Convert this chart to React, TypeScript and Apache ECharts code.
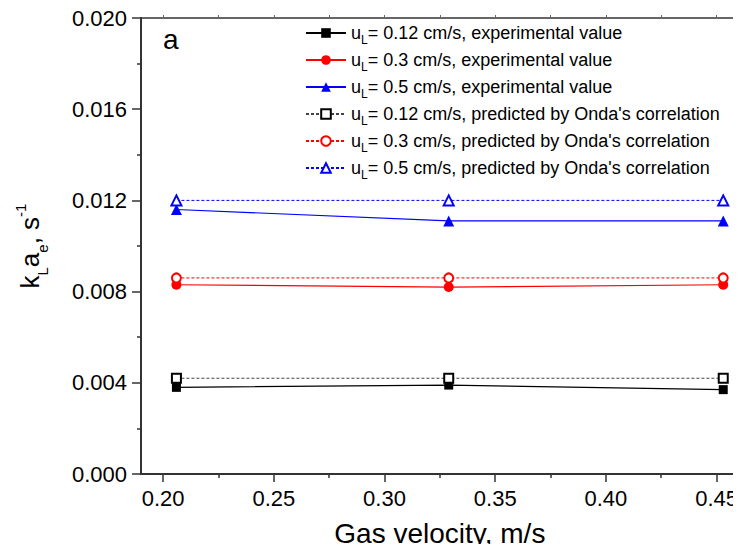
import React, { useEffect, useRef } from "react";
import * as echarts from "echarts";

const gasVelocity = [0.206, 0.329, 0.453];
const exp012 = [0.0038, 0.0039, 0.0037];
const exp03 = [0.0083, 0.0082, 0.0083];
const exp05 = [0.0116, 0.0111, 0.0111];
const pred012 = [0.0042, 0.0042, 0.0042];
const pred03 = [0.0086, 0.0086, 0.0086];
const pred05 = [0.012, 0.012, 0.012];

const xMajorTicks = [0.2, 0.25, 0.3, 0.35, 0.4, 0.45];
const xMinorTicks = [0.225, 0.275, 0.325, 0.375, 0.425];

const legendNames = [
  "u_L= 0.12 cm/s, experimental value",
  "u_L= 0.3 cm/s, experimental value",
  "u_L= 0.5 cm/s, experimental value",
  "u_L= 0.12 cm/s, predicted by Onda's correlation",
  "u_L= 0.3 cm/s, predicted by Onda's correlation",
  "u_L= 0.5 cm/s, predicted by Onda's correlation",
];

const FONT = "Arial, 'Liberation Sans', Helvetica, sans-serif";

function pairs(ys: number[]) {
  return ys.map((y, i) => [gasVelocity[i], y]);
}

export default function App() {
  const ref = useRef<HTMLDivElement>(null);
  useEffect(() => {
    if (!ref.current) return;
    const chart = echarts.init(ref.current, undefined, { renderer: "svg" });
    const mk = (
      name: string,
      ys: number[],
      color: string,
      lineColor: string,
      symbol: string,
      size: number,
      dashed: boolean
    ) => ({
      name,
      type: "line",
      xAxisIndex: 0,
      yAxisIndex: 0,
      data: pairs(ys),
      symbol,
      symbolSize: size,
      lineStyle: dashed
        ? { color: lineColor, width: 1, type: [3, 2] }
        : { color: lineColor, width: 1.2, type: "solid" },
      itemStyle: { color, borderColor: color, borderWidth: dashed ? 1.2 : 0 },
      emphasis: { disabled: true },
    });
    const xBase = { type: "value", min: 0.19, max: 0.46, splitLine: { show: false } };
    chart.setOption({
      animation: false,
      backgroundColor: "#fff",
      grid: { left: 141, right: 1, top: 18, bottom: 78 },
      textStyle: { fontFamily: FONT },
      legend: {
        orient: "vertical",
        left: 300,
        top: 19,
        itemWidth: 40,
        itemHeight: 12,
        itemGap: 5,
        data: legendNames,
        formatter: (n: string) => {
          const rest = n.substring(3);
          return "{u|u}{s|L}{t|" + rest + "}";
        },
        textStyle: {
          fontFamily: FONT,
          color: "#000",
          rich: {
            u: { fontSize: 18, fontFamily: FONT, color: "#000", lineHeight: 20 },
            s: { fontSize: 12, fontFamily: FONT, color: "#000", verticalAlign: "bottom", padding: [0, 0, -3, 0] },
            t: { fontSize: 18, fontFamily: FONT, color: "#000", lineHeight: 20 },
          },
        },
      },
      xAxis: [
        {
          ...xBase,
          position: "bottom",
          name: "Gas velocity, m/s",
          nameLocation: "middle",
          nameGap: 45,
          nameTextStyle: { fontSize: 28, fontFamily: FONT, color: "#000" },
          axisLine: { onZero: false, lineStyle: { color: "#333", width: 2 } },
          axisTick: { show: true, inside: false, length: 8, customValues: xMajorTicks, lineStyle: { color: "#333", width: 1.5 } },
          axisLabel: {
            fontSize: 22,
            fontFamily: FONT,
            color: "#000",
            margin: 13,
            customValues: xMajorTicks,
            formatter: (v: number) => v.toFixed(2),
          },
        },
        {
          ...xBase,
          position: "bottom",
          axisLine: { show: false },
          axisTick: { show: true, inside: false, length: 4, customValues: xMinorTicks, lineStyle: { color: "#333", width: 1.5 } },
          axisLabel: { show: false },
        },
        {
          ...xBase,
          position: "top",
          axisLine: { onZero: false, lineStyle: { color: "#333", width: 1.5 } },
          axisTick: { show: true, inside: false, length: 3, customValues: xMajorTicks.concat(xMinorTicks), lineStyle: { color: "#666", width: 1 } },
          axisLabel: { show: false },
        },
      ],
      yAxis: [
        {
          type: "value",
          min: 0,
          max: 0.02,
          interval: 0.004,
          position: "left",
          name: "{k|k}{s|L}{k|a}{s|e}{k|, s}{p|-1}",
          nameLocation: "middle",
          nameRotate: 90,
          nameGap: 96,
          nameTextStyle: {
            fontFamily: FONT,
            color: "#000",
            rich: {
              k: { fontSize: 26, fontFamily: FONT, color: "#000", lineHeight: 30 },
              s: { fontSize: 15, fontFamily: FONT, color: "#000", verticalAlign: "bottom", padding: [0, 0, -5, 0] },
              p: { fontSize: 15, fontFamily: FONT, color: "#000", verticalAlign: "top", padding: [-2, 0, 0, 0] },
            },
          },
          axisLine: { onZero: false, lineStyle: { color: "#333", width: 2 } },
          axisTick: { show: true, inside: false, length: 9, lineStyle: { color: "#333", width: 1.5 } },
          minorTick: { show: true, splitNumber: 2, length: 4, lineStyle: { color: "#333", width: 1.5 } },
          axisLabel: {
            fontSize: 22,
            fontFamily: FONT,
            color: "#000",
            margin: 14,
            formatter: (v: number) => v.toFixed(3),
          },
          splitLine: { show: false },
        },
        {
          type: "value",
          min: 0,
          max: 0.02,
          interval: 0.004,
          position: "right",
          axisLine: { onZero: false, lineStyle: { color: "#999", width: 1.2 } },
          axisTick: { show: false },
          axisLabel: { show: false },
          splitLine: { show: false },
        },
      ],
      graphic: [
        {
          type: "text",
          left: 163,
          top: 25,
          style: { text: "a", fontSize: 28, fontFamily: FONT, fill: "#000" },
        },
      ],
      series: [
        mk(legendNames[0], exp012, "#000000", "#000000", "rect", 9, false),
        mk(legendNames[1], exp03, "#ff0000", "#ff0000", "circle", 10, false),
        mk(legendNames[2], exp05, "#0000ff", "#0000ff", "triangle", 11, false),
        mk(legendNames[3], pred012, "#000000", "#444444", "emptyRect", 9, true),
        mk(legendNames[4], pred03, "#ff0000", "#ff0000", "emptyCircle", 9, true),
        mk(legendNames[5], pred05, "#0000ff", "#0000ff", "emptyTriangle", 10, true),
      ],
    });
    return () => chart.dispose();
  }, []);
  return <div ref={ref} style={{ width: 741, height: 552, margin: "-8px" }} />;
}
